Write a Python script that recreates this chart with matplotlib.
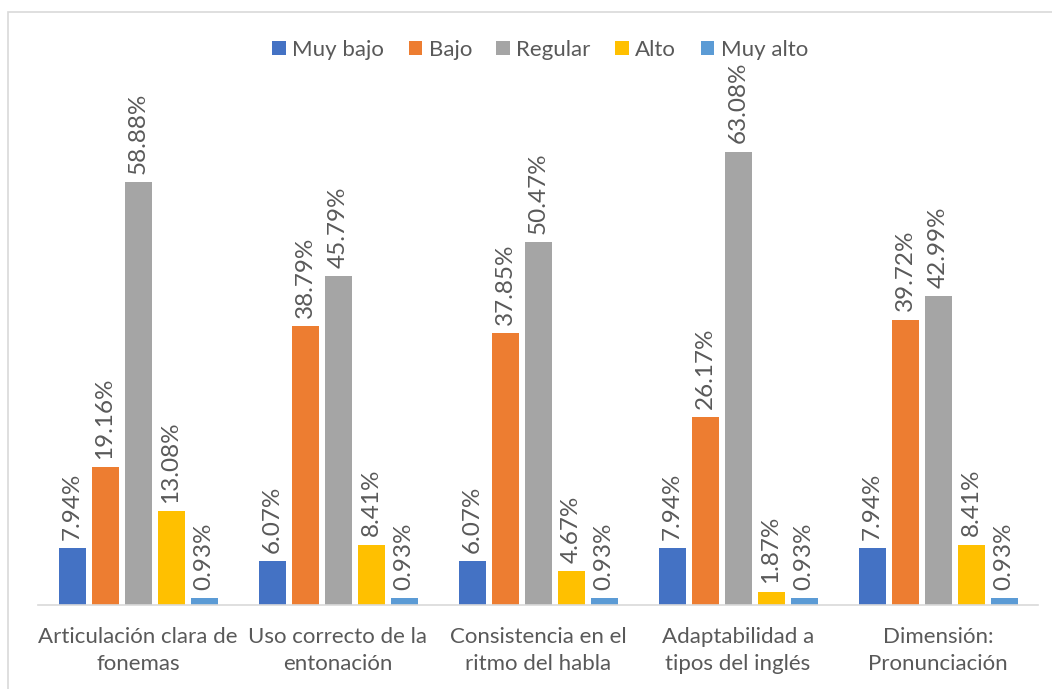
import numpy as np
import matplotlib.pyplot as plt
from matplotlib.patches import Rectangle

categorias = ['Articulación clara de\nfonemas', 'Uso correcto de la\nentonación',
              'Consistencia en el\nritmo del habla', 'Adaptabilidad a\ntipos del inglés',
              'Dimensión:\nPronunciación']
series = ['Muy bajo', 'Bajo', 'Regular', 'Alto', 'Muy alto']
muy_bajo = [7.94, 6.07, 6.07, 7.94, 7.94]
bajo = [19.16, 38.79, 37.85, 26.17, 39.72]
regular = [58.88, 45.79, 50.47, 63.08, 42.99]
alto = [13.08, 8.41, 4.67, 1.87, 8.41]
muy_alto = [0.93, 0.93, 0.93, 0.93, 0.93]
colores = ['#4472C4', '#ED7D31', '#A5A5A5', '#FFC000', '#5B9BD5']

plt.rcParams['font.family'] = ['Lato', 'DejaVu Sans']
gris = '#595959'

fig = plt.figure(figsize=(10.52, 6.89), dpi=100)
fig.patches.append(Rectangle((8 / 1052, -0.1), 1.2, 1 - 12 / 689 + 0.1, transform=fig.transFigure,
                             fill=False, edgecolor='#D9D9D9', linewidth=1.2))
ax = fig.add_axes([38 / 1052, 84 / 689, 1000 / 1052, 503 / 689])

x = np.arange(len(categorias))
paso = 0.165
ancho = 0.135
for i, (nombre, valores) in enumerate(zip(series, [muy_bajo, bajo, regular, alto, muy_alto])):
    pos = x + (i - 2) * paso
    barras = ax.bar(pos, valores, ancho, color=colores[i], label=nombre)
    for p, v in zip(pos, valores):
        ax.annotate(f'{v:.2f}%', (p, v), xytext=(0, 6), textcoords='offset points',
                    rotation=90, ha='center', va='bottom', fontsize=17.5, color=gris,
                    annotation_clip=False)

ax.set_xlim(-0.5, 4.5)
ax.set_ylim(0, 70)
ax.set_yticks([])
ax.set_xticks(x)
ax.set_xticklabels(categorias, fontsize=16, color=gris, linespacing=1.45)
ax.tick_params(axis='x', length=0, pad=16)
for s in ['top', 'right', 'left']:
    ax.spines[s].set_visible(False)
ax.spines['bottom'].set_color('#D9D9D9')
ax.spines['bottom'].set_linewidth(1.2)

fig.legend(loc='center', bbox_to_anchor=(540 / 1052, 1 - 50 / 689), ncol=5, frameon=False,
           fontsize=16, labelcolor=gris, handlelength=0.6, handleheight=0.6,
           handletextpad=0.3, columnspacing=1.1)

fig.savefig('out.png', dpi=100)
